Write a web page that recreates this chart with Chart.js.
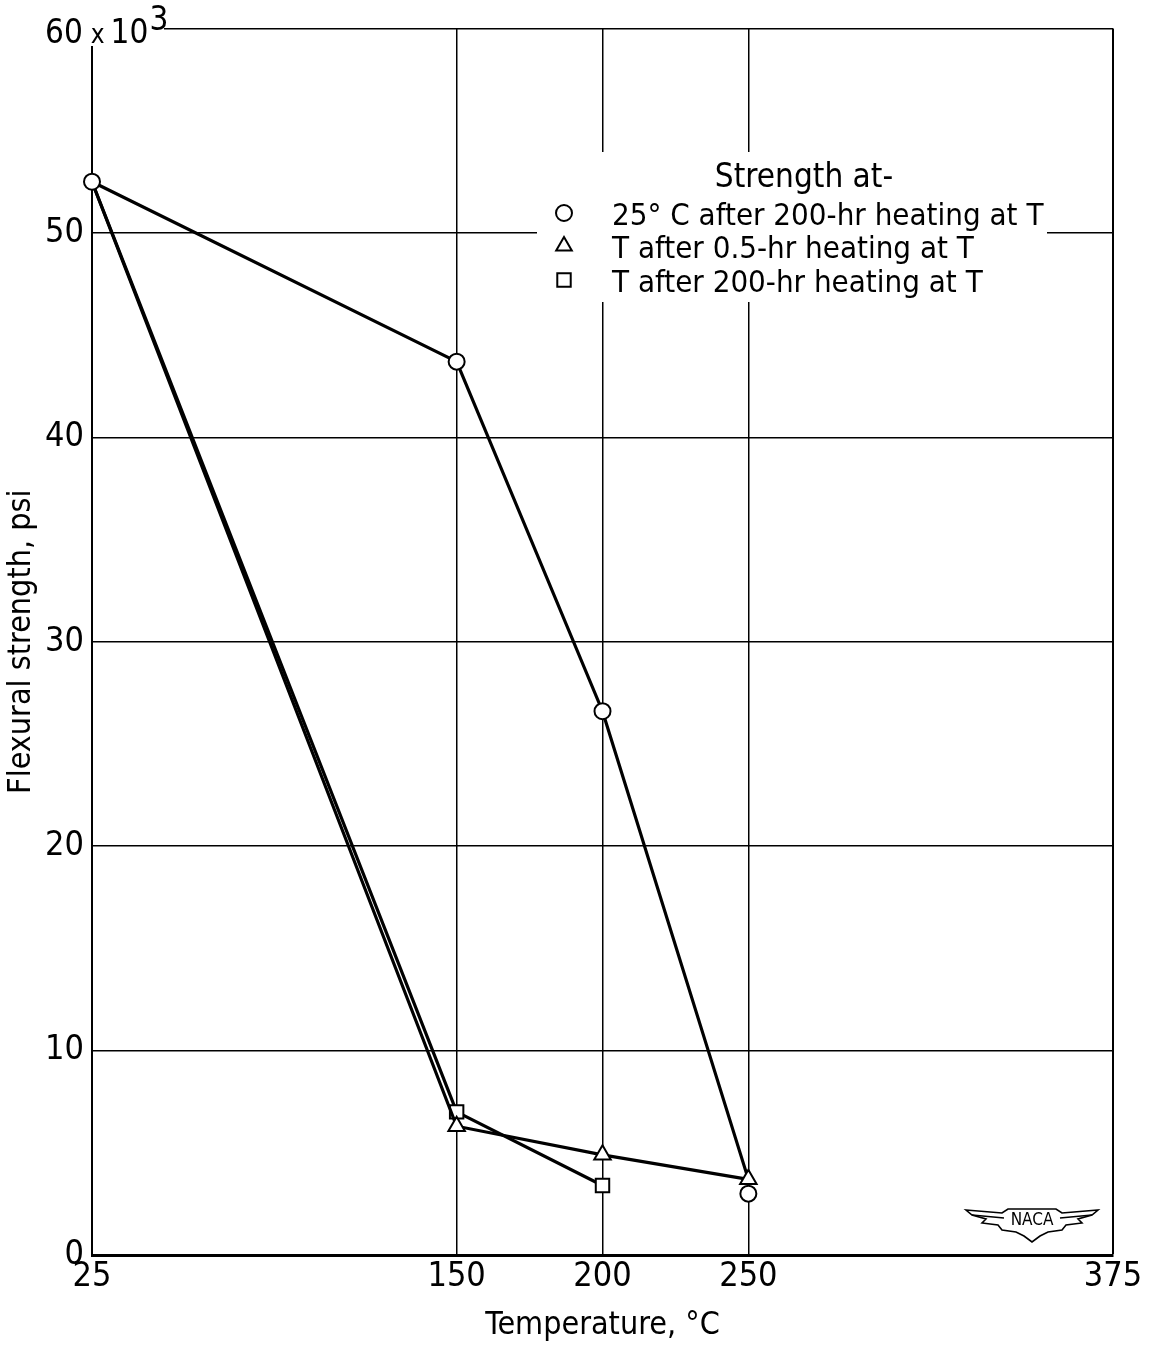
<!DOCTYPE html>
<html>
<head>
<meta charset="utf-8">
<script src="https://cdn.jsdelivr.net/npm/chart.js@4.4.1/dist/chart.umd.min.js"></script>
<style>
  html, body { margin: 0; padding: 0; background: #fff; }
  #chart { display: block; }
</style>
</head>
<body>
<canvas id="chart" width="1153" height="1348"></canvas>
<script>
// Flexural strength (thousands of psi) against temperature, deg C
const temps = [25, 150, 200, 250];
const strengthAfter200hrAt25C = [52.5, 43.7, 26.6, 3.0];
const strengthAfterHalfHr = [52.5, 6.3, 4.9, 3.7];
const strengthAfter200hr = [52.5, 7.0, 3.4];

const xTicks = [25, 150, 200, 250, 375];
const yTicks = [0, 10, 20, 30, 40, 50, 60];

const legendTitle = "Strength at-";
const seriesLabels = [
  "25\u00b0 C after 200-hr heating at T",
  "T after 0.5-hr heating at T",
  "T after 200-hr heating at T",
];

const FONT = '"DejaVu Sans Condensed", "Liberation Sans Narrow", sans-serif';
Chart.defaults.font.family = FONT;
Chart.defaults.color = "#000";

const toPoints = (ys) => ys.map((y, i) => ({ x: temps[i], y: y }));

// the 25 C curve is faired down into the 0.5-hr point at 250 C
const faired25C = toPoints(
  temps.map((t, i) => (i < temps.length - 1 ? strengthAfter200hrAt25C[i] : strengthAfterHalfHr[i]))
);

// all curves start from the common room-temperature point, only the circle is marked there
const hideFirst = (r) => (ctx) => (ctx.dataIndex === 0 ? 0 : r);

const legendBox = {
  id: "legendBox",
  afterDatasetsDraw(chart) {
    const ctx = chart.ctx;
    ctx.save();
    ctx.fillStyle = "#fff";
    ctx.fillRect(537, 152, 510, 150);

    ctx.fillStyle = "#000";
    ctx.textBaseline = "alphabetic";
    ctx.font = "33px " + FONT;
    ctx.textAlign = "center";
    ctx.fillText(legendTitle, 804, 187);

    const styles = [
      { pointStyle: "circle", radius: 8 },
      { pointStyle: "triangle", radius: 9 },
      { pointStyle: "rect", radius: 9.5 },
    ];
    const rows = [213, 246, 280];
    ctx.font = "31px " + FONT;
    ctx.textAlign = "left";
    seriesLabels.forEach((label, i) => {
      ctx.lineWidth = 2;
      ctx.strokeStyle = "#000";
      ctx.fillStyle = "#fff";
      Chart.helpers.drawPoint(ctx, { pointStyle: styles[i].pointStyle, radius: styles[i].radius, rotation: 0, borderWidth: 2 }, 564, rows[i]);
      ctx.fillStyle = "#000";
      ctx.fillText(label, 612, rows[i] + 12);
    });
    ctx.restore();
  },
};

// "60 x 10^3" sits over the top-left corner of the grid
const topLabel = {
  id: "topLabel",
  afterDraw(chart) {
    const ctx = chart.ctx;
    ctx.save();
    ctx.fillStyle = "#fff";
    ctx.fillRect(40, 2, 124, 44);
    ctx.fillStyle = "#000";
    ctx.textBaseline = "alphabetic";
    ctx.textAlign = "left";
    ctx.font = "33px " + FONT;
    ctx.fillText("60", 45, 43);
    let x = 45 + ctx.measureText("60").width + 8;
    ctx.font = "26px " + FONT;
    ctx.fillText("x", x, 43);
    x += ctx.measureText("x").width + 6;
    ctx.font = "33px " + FONT;
    ctx.fillText("10", x, 43);
    x += ctx.measureText("10").width + 1;
    ctx.fillText("3", x, 30);
    ctx.restore();
  },
};

// winged NACA stamp, lower right
const nacaStamp = {
  id: "nacaStamp",
  afterDraw(chart) {
    const ctx = chart.ctx;
    const cx = 1032, cy = 1222;
    ctx.save();
    ctx.strokeStyle = "#000";
    ctx.lineWidth = 1.6;
    ctx.beginPath();
    ctx.moveTo(cx - 66, cy - 12);
    ctx.lineTo(cx - 30, cy - 9);
    ctx.lineTo(cx - 24, cy - 13);
    ctx.lineTo(cx + 24, cy - 13);
    ctx.lineTo(cx + 30, cy - 9);
    ctx.lineTo(cx + 66, cy - 12);
    ctx.lineTo(cx + 60, cy - 7);
    ctx.lineTo(cx + 46, cy - 3);
    ctx.lineTo(cx + 50, cy + 1);
    ctx.lineTo(cx + 34, cy + 3);
    ctx.lineTo(cx + 30, cy + 8);
    ctx.lineTo(cx + 16, cy + 10);
    ctx.lineTo(cx + 8, cy + 14);
    ctx.lineTo(cx, cy + 20);
    ctx.lineTo(cx - 8, cy + 14);
    ctx.lineTo(cx - 16, cy + 10);
    ctx.lineTo(cx - 30, cy + 8);
    ctx.lineTo(cx - 34, cy + 3);
    ctx.lineTo(cx - 50, cy + 1);
    ctx.lineTo(cx - 46, cy - 3);
    ctx.lineTo(cx - 60, cy - 7);
    ctx.closePath();
    ctx.stroke();
    ctx.beginPath();
    ctx.moveTo(cx - 60, cy - 7);
    ctx.lineTo(cx - 28, cy - 4);
    ctx.moveTo(cx + 60, cy - 7);
    ctx.lineTo(cx + 28, cy - 4);
    ctx.stroke();
    ctx.fillStyle = "#000";
    ctx.font = "17px " + FONT;
    ctx.textAlign = "center";
    ctx.textBaseline = "middle";
    ctx.fillText("NACA", cx, cy - 1);
    ctx.restore();
  },
};

new Chart(document.getElementById("chart"), {
  type: "line",
  data: {
    datasets: [
      {
        label: "circle markers",
        data: toPoints(strengthAfter200hrAt25C),
        showLine: false,
        pointStyle: "circle",
        pointRadius: 8,
        pointBorderWidth: 2,
        pointBackgroundColor: "#fff",
        pointBorderColor: "#000",
        clip: false,
        order: 0,
      },
      {
        label: seriesLabels[1],
        data: toPoints(strengthAfterHalfHr),
        borderColor: "#000",
        borderWidth: 3.2,
        pointStyle: "triangle",
        pointRadius: hideFirst(9.5),
        pointBorderWidth: 2,
        pointBackgroundColor: "#fff",
        pointBorderColor: "#000",
        clip: false,
        order: 1,
      },
      {
        label: seriesLabels[2],
        data: toPoints(strengthAfter200hr),
        borderColor: "#000",
        borderWidth: 3.2,
        pointStyle: "rect",
        pointRadius: hideFirst(9.5),
        pointBorderWidth: 2,
        pointBackgroundColor: "#fff",
        pointBorderColor: "#000",
        clip: false,
        order: 2,
      },
      {
        label: seriesLabels[0],
        data: faired25C,
        borderColor: "#000",
        borderWidth: 3.2,
        pointRadius: 0,
        clip: false,
        order: 3,
      },
    ],
  },
  options: {
    responsive: false,
    animation: false,
    devicePixelRatio: 1,
    layout: { padding: { top: 28, right: 40, left: 0, bottom: 0 } },
    plugins: {
      legend: { display: false },
      tooltip: { enabled: false },
    },
    scales: {
      x: {
        type: "linear",
        min: 25,
        max: 375,
        afterBuildTicks: (scale) => {
          scale.ticks = xTicks.map((v) => ({ value: v }));
        },
        afterFit: (scale) => {
          scale.height = 93;
        },
        ticks: {
          font: { size: 34 },
          padding: 2,
          maxRotation: 0,
          autoSkip: false,
        },
        grid: {
          color: "#000",
          lineWidth: (ctx) => (ctx.tick && ctx.tick.value === 375 ? 2 : 1.5),
          drawTicks: false,
        },
        border: { display: true, color: "#000", width: 3 },
        title: {
          display: true,
          text: "Temperature, \u00b0C",
          font: { size: 32 },
          padding: { top: 0, bottom: 3 },
        },
      },
      y: {
        type: "linear",
        min: 0,
        max: 60,
        afterBuildTicks: (scale) => {
          scale.ticks = yTicks.map((v) => ({ value: v }));
        },
        afterFit: (scale) => {
          scale.width = 92;
        },
        ticks: {
          font: { size: 34 },
          padding: 8,
          callback: (v) => (v === 60 ? "" : v),
        },
        grid: {
          color: "#000",
          lineWidth: 1.5,
          drawTicks: false,
        },
        border: { display: true, color: "#000", width: 2 },
        title: {
          display: true,
          text: "Flexural strength, psi",
          font: { size: 32 },
          padding: { top: 2, bottom: 0 },
        },
      },
    },
  },
  plugins: [legendBox, topLabel, nacaStamp],
});
</script>
</body>
</html>
